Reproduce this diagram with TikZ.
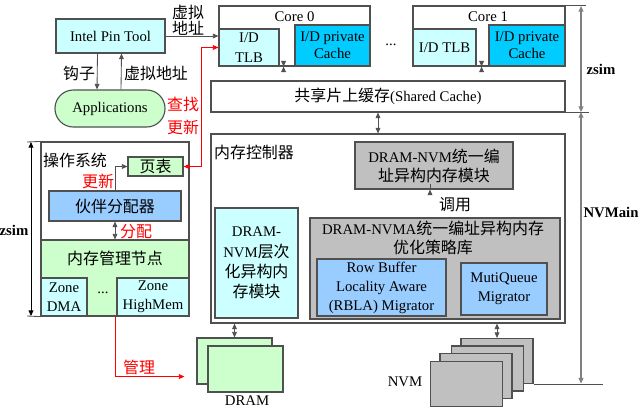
\documentclass[tikz,border=0pt]{standalone}
\usepackage{fontspec}
\setmainfont{Liberation Serif}
\newfontfamily\cjk[Scale=1.08]{Noto Sans CJK SC}
\newcommand{\zh}[1]{{\cjk #1}}
\usetikzlibrary{arrows.meta,positioning,calc}
\definecolor{Line}{HTML}{505050}
\definecolor{LightCyan}{HTML}{CCFFFF}
\definecolor{LightGreen}{HTML}{CCFFCC}
\definecolor{SkyCache}{HTML}{00CCFF}
\definecolor{SoftBlue}{HTML}{99CCFF}
\definecolor{Silver}{HTML}{C0C0C0}
\definecolor{Mark}{HTML}{FF0000}
\definecolor{Rule}{HTML}{808080}

\begin{document}
\begin{tikzpicture}[x=0.025cm,y=-0.025cm,
  font=\fontsize{10.5}{13.5}\selectfont,
  whitebox/.style={draw=Line,fill=white,line width=0.8pt,inner sep=0pt},
  cyanbox/.style={draw=Line,fill=LightCyan,line width=0.8pt,inner sep=0pt,align=center},
  greenbox/.style={draw=Line,fill=LightGreen,line width=0.8pt,inner sep=0pt,align=center},
  cachebox/.style={draw=Line,fill=SkyCache,line width=0.8pt,inner sep=0pt,align=center},
  bluebox/.style={draw=Line,fill=SoftBlue,line width=0.8pt,inner sep=0pt,align=center},
  graybox/.style={draw=Line,fill=Silver,line width=0.8pt,inner sep=0pt,align=center},
  lbl/.style={inner sep=1pt,align=center},
  redlbl/.style={inner sep=1pt,align=center,text=Mark},
  boldlbl/.style={inner sep=1pt,font=\fontsize{10.5}{12}\selectfont\bfseries},
  arrow/.style={-{Triangle[length=1.4mm,width=1.2mm]},line width=0.6pt,draw=Line},
  both/.style={{Triangle[length=1.4mm,width=1.2mm]}-{Triangle[length=1.4mm,width=1.2mm]},line width=0.6pt,draw=Line},
  redarrow/.style={-{Triangle[length=1.4mm,width=1.2mm]},line width=0.6pt,draw=Mark},
  redboth/.style={{Triangle[length=1.4mm,width=1.2mm]}-{Triangle[length=1.4mm,width=1.2mm]},line width=0.6pt,draw=Mark},
  dim/.style={{Triangle[length=1.4mm,width=1.2mm]}-{Triangle[length=1.4mm,width=1.2mm]},line width=1pt,draw=Rule},
  tick/.style={line width=0.6pt,draw=Line}
]
\useasboundingbox (0,0) rectangle (642,410);

% pin tool and application
\node[cyanbox,minimum width=2.725cm,minimum height=0.85cm] (pin) at (110.5,36) {Intel Pin Tool};
\node[greenbox,rounded corners=0.46cm,minimum width=2.75cm,minimum height=0.925cm] (apps) at (110,108.5) {Applications};

% cores
\node[whitebox,minimum width=3.775cm,minimum height=1.5cm] (core0) at (294.5,36) {};
\node[lbl] (c0t) at (294.5,17) {Core 0};
\node[cyanbox,minimum width=1.5cm,minimum height=0.925cm] (tlb0) at (249,47.5) {I/D\\[1pt]TLB};
\node[cachebox,minimum width=1.875cm,minimum height=1.025cm,font=\fontsize{10.5}{12}\selectfont] (pc0) at (332.5,45.5) {I/D private\\Cache};
\node[lbl] (dots1) at (391,45) {...};
\node[whitebox,minimum width=3.8cm,minimum height=1.5cm] (core1) at (489,36) {};
\node[lbl] (c1t) at (488,17) {Core 1};
\node[cyanbox,minimum width=1.575cm,minimum height=0.925cm] (tlb1) at (444.5,47.5) {I/D TLB};
\node[cachebox,minimum width=1.9cm,minimum height=1.025cm,font=\fontsize{10.5}{12}\selectfont] (pc1) at (527,45.5) {I/D private\\Cache};

% shared cache
\node[whitebox,minimum width=8.85cm,minimum height=0.775cm] (shared) at (388,96.5) {\zh{共享片上缓存}(Shared Cache)};

% memory controller
\node[whitebox,minimum width=8.85cm,minimum height=4.725cm] (mc) at (388,228.5) {};
\node[lbl] (mct) at (254,152) {\zh{内存控制器}};
\node[graybox,minimum width=3.95cm,minimum height=1.175cm] (uni) at (434,165.5) {DRAM-NVM\zh{统一编}\\\zh{址异构内存模块}};
\node[graybox,minimum width=6.25cm,minimum height=2.525cm] (lib) at (435,268.5) {};
\node[lbl] (libt) at (433,238) {DRAM-NVMA\zh{统一编址异构内存}\\\zh{优化策略库}};
\node[bluebox,minimum width=3.225cm,minimum height=1.425cm] (rbla) at (381.5,287.5) {Row Buffer\\Locality Aware\\(RBLA) Migrator};
\node[bluebox,minimum width=2.15cm,minimum height=1.3cm] (mq) at (504,289) {MutiQueue\\Migrator};
\node[cyanbox,minimum width=2.075cm,minimum height=2.75cm,font=\fontsize{10.5}{14.5}\selectfont] (hier) at (256.5,263) {DRAM-\\NVM\zh{层次}\\\zh{化异构内}\\\zh{存模块}};

% operating system
\node[whitebox,minimum width=3.7cm,minimum height=4.35cm] (os) at (115,229) {};
\node[lbl] (ost) at (75,160) {\zh{操作系统}};
\node[greenbox,minimum width=1.375cm,minimum height=0.475cm] (pt) at (155.5,166.5) {\zh{页表}};
\node[bluebox,minimum width=3.3cm,minimum height=0.75cm] (buddy) at (115,206) {\zh{伙伴分配器}};
\node[greenbox,minimum width=3.7cm,minimum height=1.9cm] (mmn) at (115,278) {};
\node[lbl] (mmnt) at (115,258) {\zh{内存管理节点}};
\node[cyanbox,minimum width=1.15cm,minimum height=0.95cm] (zdma) at (64,297) {Zone\\DMA};
\node[lbl] (dots2) at (103,293) {...};
\node[cyanbox,minimum width=1.8cm,minimum height=0.95cm] (zhigh) at (153,297) {Zone\\HighMem};

% memory devices
\node[greenbox,minimum width=1.875cm,minimum height=1.15cm] (dramb) at (234.5,361) {};
\node[greenbox,minimum width=1.875cm,minimum height=1.15cm] (dramf) at (245.5,369) {};
\node[lbl] (dramt) at (247,401) {DRAM};
\node[graybox,minimum width=1.8cm,minimum height=1.125cm] (nvm1) at (497,361) {};
\node[graybox,minimum width=1.8cm,minimum height=1.125cm] (nvm2) at (487.5,368.5) {};
\node[graybox,minimum width=1.8cm,minimum height=1.125cm] (nvm3) at (476,376) {};
\node[graybox,minimum width=1.8cm,minimum height=1.125cm] (nvm4) at (466.5,384) {};
\node[lbl] (nvmt) at (405,382) {NVM};

% connectors
\draw[arrow] ($(pin.south)+(-13,0)$) -- ($(apps.north)+(-13,0)$);
\node[lbl] (hook) at (79,73) {\zh{钩子}};
\draw[arrow] ($(apps.north)+(11,0)$) -- ($(pin.south)+(11,0)$);
\node[lbl] (va1) at (156,73) {\zh{虚拟地址}};
\draw[arrow] (pin.east) -- (pin.east -| tlb0.west);
\node[lbl,font=\fontsize{10.5}{11.5}\selectfont] (va2) at (188,20) {\zh{虚拟}\\\zh{地址}};
\draw[redboth] (pt.east) -- ++(18,0) |- (tlb0.west);
\node[redlbl,font=\fontsize{10.5}{16}\selectfont] (lookup) at (183,116) {\zh{查找}\\\zh{更新}};
\draw[both] ($(tlb0.south east)+(4,0)$) -- ($(tlb0.south east)+(4,0)$ |- shared.north);
\draw[both] ($(tlb1.south east)+(5,0)$) -- ($(tlb1.south east)+(5,0)$ |- shared.north);
\draw[both] ($(shared.south)+(-10,0)$) -- ($(mc.north)+(-10,0)$);
\draw[arrow] ($(uni.south)+(-4,0)$) -- ($(uni.south)+(-4,0)$ |- lib.north);
\node[lbl] (call) at (455,205) {\zh{调用}};
\draw[arrow] (buddy.north) |- (pt.west);
\node[redlbl] (upd) at (98,181) {\zh{更新}};
\draw[both] (buddy.south) -- (mmn.north);
\node[redlbl] (alloc) at (136,232) {\zh{分配}};
\draw[redarrow] ($(zhigh.south west)+(-1,0)$) -- ++(0,60) -- ++(69,0);
\node[redlbl] (manage) at (139,367) {\zh{管理}};
\draw[both] (dramb.north |- mc.south) -- (dramb.north);
\draw[both] (nvm1.north |- mc.south) -- (nvm1.north);

% zsim / NVMain extents
\coordinate (rtop) at (581,6);
\coordinate (rmid) at (581,112);
\coordinate (rbot) at (581,383.5);
\draw[tick] (core1.north east) -- ++(20,0);
\draw[tick] (shared.south east) -- ++(23,0);
\draw[tick] (nvm1.south east) -- ++(69,0);
\draw[dim] (rtop) -- (rmid);
\draw[dim] (rmid) -- (rbot);
\node[boldlbl] (zsimr) at (601,69) {zsim};
\node[boldlbl] (nvmain) at (611,212) {NVMain};
\coordinate (ltop) at (31,142);
\coordinate (lbot) at (31,316);
\draw[tick] ($(ltop)+(-4,0)$) -- (os.north west);
\draw[tick] ($(lbot)+(-4,0)$) -- (os.south west);
\draw[dim,draw=black,line width=0.6pt] (ltop) -- (lbot);
\node[boldlbl] (zsiml) at (14,230) {zsim};
\end{tikzpicture}
\end{document}
